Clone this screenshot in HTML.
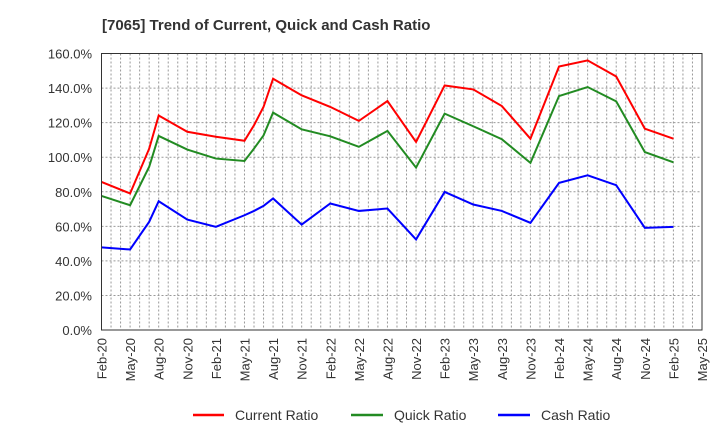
<!DOCTYPE html>
<html><head><meta charset="utf-8"><style>body{margin:0;background:#fff}svg{display:block;font-family:"Liberation Sans",sans-serif}</style></head>
<body>
<svg id="chart" width="720" height="440" xmlns="http://www.w3.org/2000/svg">
<text x="102" y="30" font-size="15" font-weight="bold" fill="#333">[7065]  Trend of Current, Quick and Cash Ratio</text>
<g id="grid"></g>
<g id="yaxis"></g>
<g id="xaxis"></g>
<g id="series"></g>
<rect x="101.5" y="53.5" width="600.5" height="276.5" fill="none" stroke="#333" stroke-width="1"/>
<g>
<g><line x1="193" y1="415" x2="224" y2="415" stroke="#f00" stroke-width="2.5"/><text x="235" y="420" font-size="14" fill="#333">Current Ratio</text></g>
<g><line x1="351" y1="415" x2="383" y2="415" stroke="#228b22" stroke-width="2.5"/><text x="394" y="420" font-size="14" fill="#333">Quick Ratio</text></g>
<g><line x1="498" y1="415" x2="530" y2="415" stroke="#00f" stroke-width="2.5"/><text x="541" y="420" font-size="14" fill="#333">Cash Ratio</text></g>
</g>
</svg>
<script>
const monthIdx = [0,3,5,6,9,12,15,16,17,18,21,24,27,30,33,36,39,42,45,48,51,54,57,60];
const currentRatio = [85.7,79,104.9,124.1,114.7,111.8,109.5,118.5,129.1,145.4,135.8,129.1,121,132.5,108.8,141.5,139.2,129.6,110.7,152.5,156,146.7,116.5,110.7];
const quickRatio = [77.6,72.2,94.4,112.3,104.4,99.2,97.8,105,112.6,125.8,116.1,112.1,106,115.2,94,125.2,117.9,110.4,96.7,135.4,140.6,132.3,103,97];
const cashRatio = [47.8,46.6,62.6,74.5,63.9,59.7,66.4,68.9,71.8,76.1,61,73.2,68.9,70.3,52.4,79.9,72.6,68.9,62,85.1,89.5,83.8,59.1,59.7];
const yTicks = [0,20,40,60,80,100,120,140,160];
const xTickLabels = ["Feb-20","May-20","Aug-20","Nov-20","Feb-21","May-21","Aug-21","Nov-21","Feb-22","May-22","Aug-22","Nov-22","Feb-23","May-23","Aug-23","Nov-23","Feb-24","May-24","Aug-24","Nov-24","Feb-25","May-25"];
const X0=101.5,X1=702,Y0=330,Y1=53.5,NM=63;
const xs=m=>X0+(X1-X0)*m/NM;
const ys=v=>Y0-(Y0-Y1)*v/160;
const NS="http://www.w3.org/2000/svg";
function mk(t,a,p){const e=document.createElementNS(NS,t);for(const k in a)e.setAttribute(k,a[k]);p.appendChild(e);return e;}
const grid=document.getElementById('grid'),ya=document.getElementById('yaxis'),xa=document.getElementById('xaxis'),se=document.getElementById('series');
for(let m=1;m<NM;m++){const l=mk('line',{x1:xs(m),x2:xs(m),y1:Y1,y2:Y0,stroke:'#999','stroke-dasharray':'2,2','stroke-width':1},grid);

}
yTicks.forEach(v=>{if(v>0&&v<160){const l=mk('line',{x1:X0,x2:X1,y1:ys(v),y2:ys(v),stroke:'#999','stroke-dasharray':'2,2','stroke-width':1},grid);

}
const t=mk('text',{x:92,y:ys(v)+5,'text-anchor':'end','font-size':13,fill:'#333'},ya);


t.textContent=v.toFixed(1)+'%';});
xTickLabels.forEach((s,i)=>{const x=xs(i*3);const t=mk('text',{transform:`translate(${x+5},338) rotate(-90)`,'text-anchor':'end','font-size':13,fill:'#333'},xa);


t.textContent=s;});
[[currentRatio,'#f00','current-ratio-line'],[quickRatio,'#228b22','quick-ratio-line'],[cashRatio,'#00f','cash-ratio-line']].forEach(([d,c,n])=>{
const p=mk('polyline',{points:d.map((v,i)=>xs(monthIdx[i])+','+ys(v)).join(' '),fill:'none',stroke:c,'stroke-width':2},se);

});
</script>
</body></html>
